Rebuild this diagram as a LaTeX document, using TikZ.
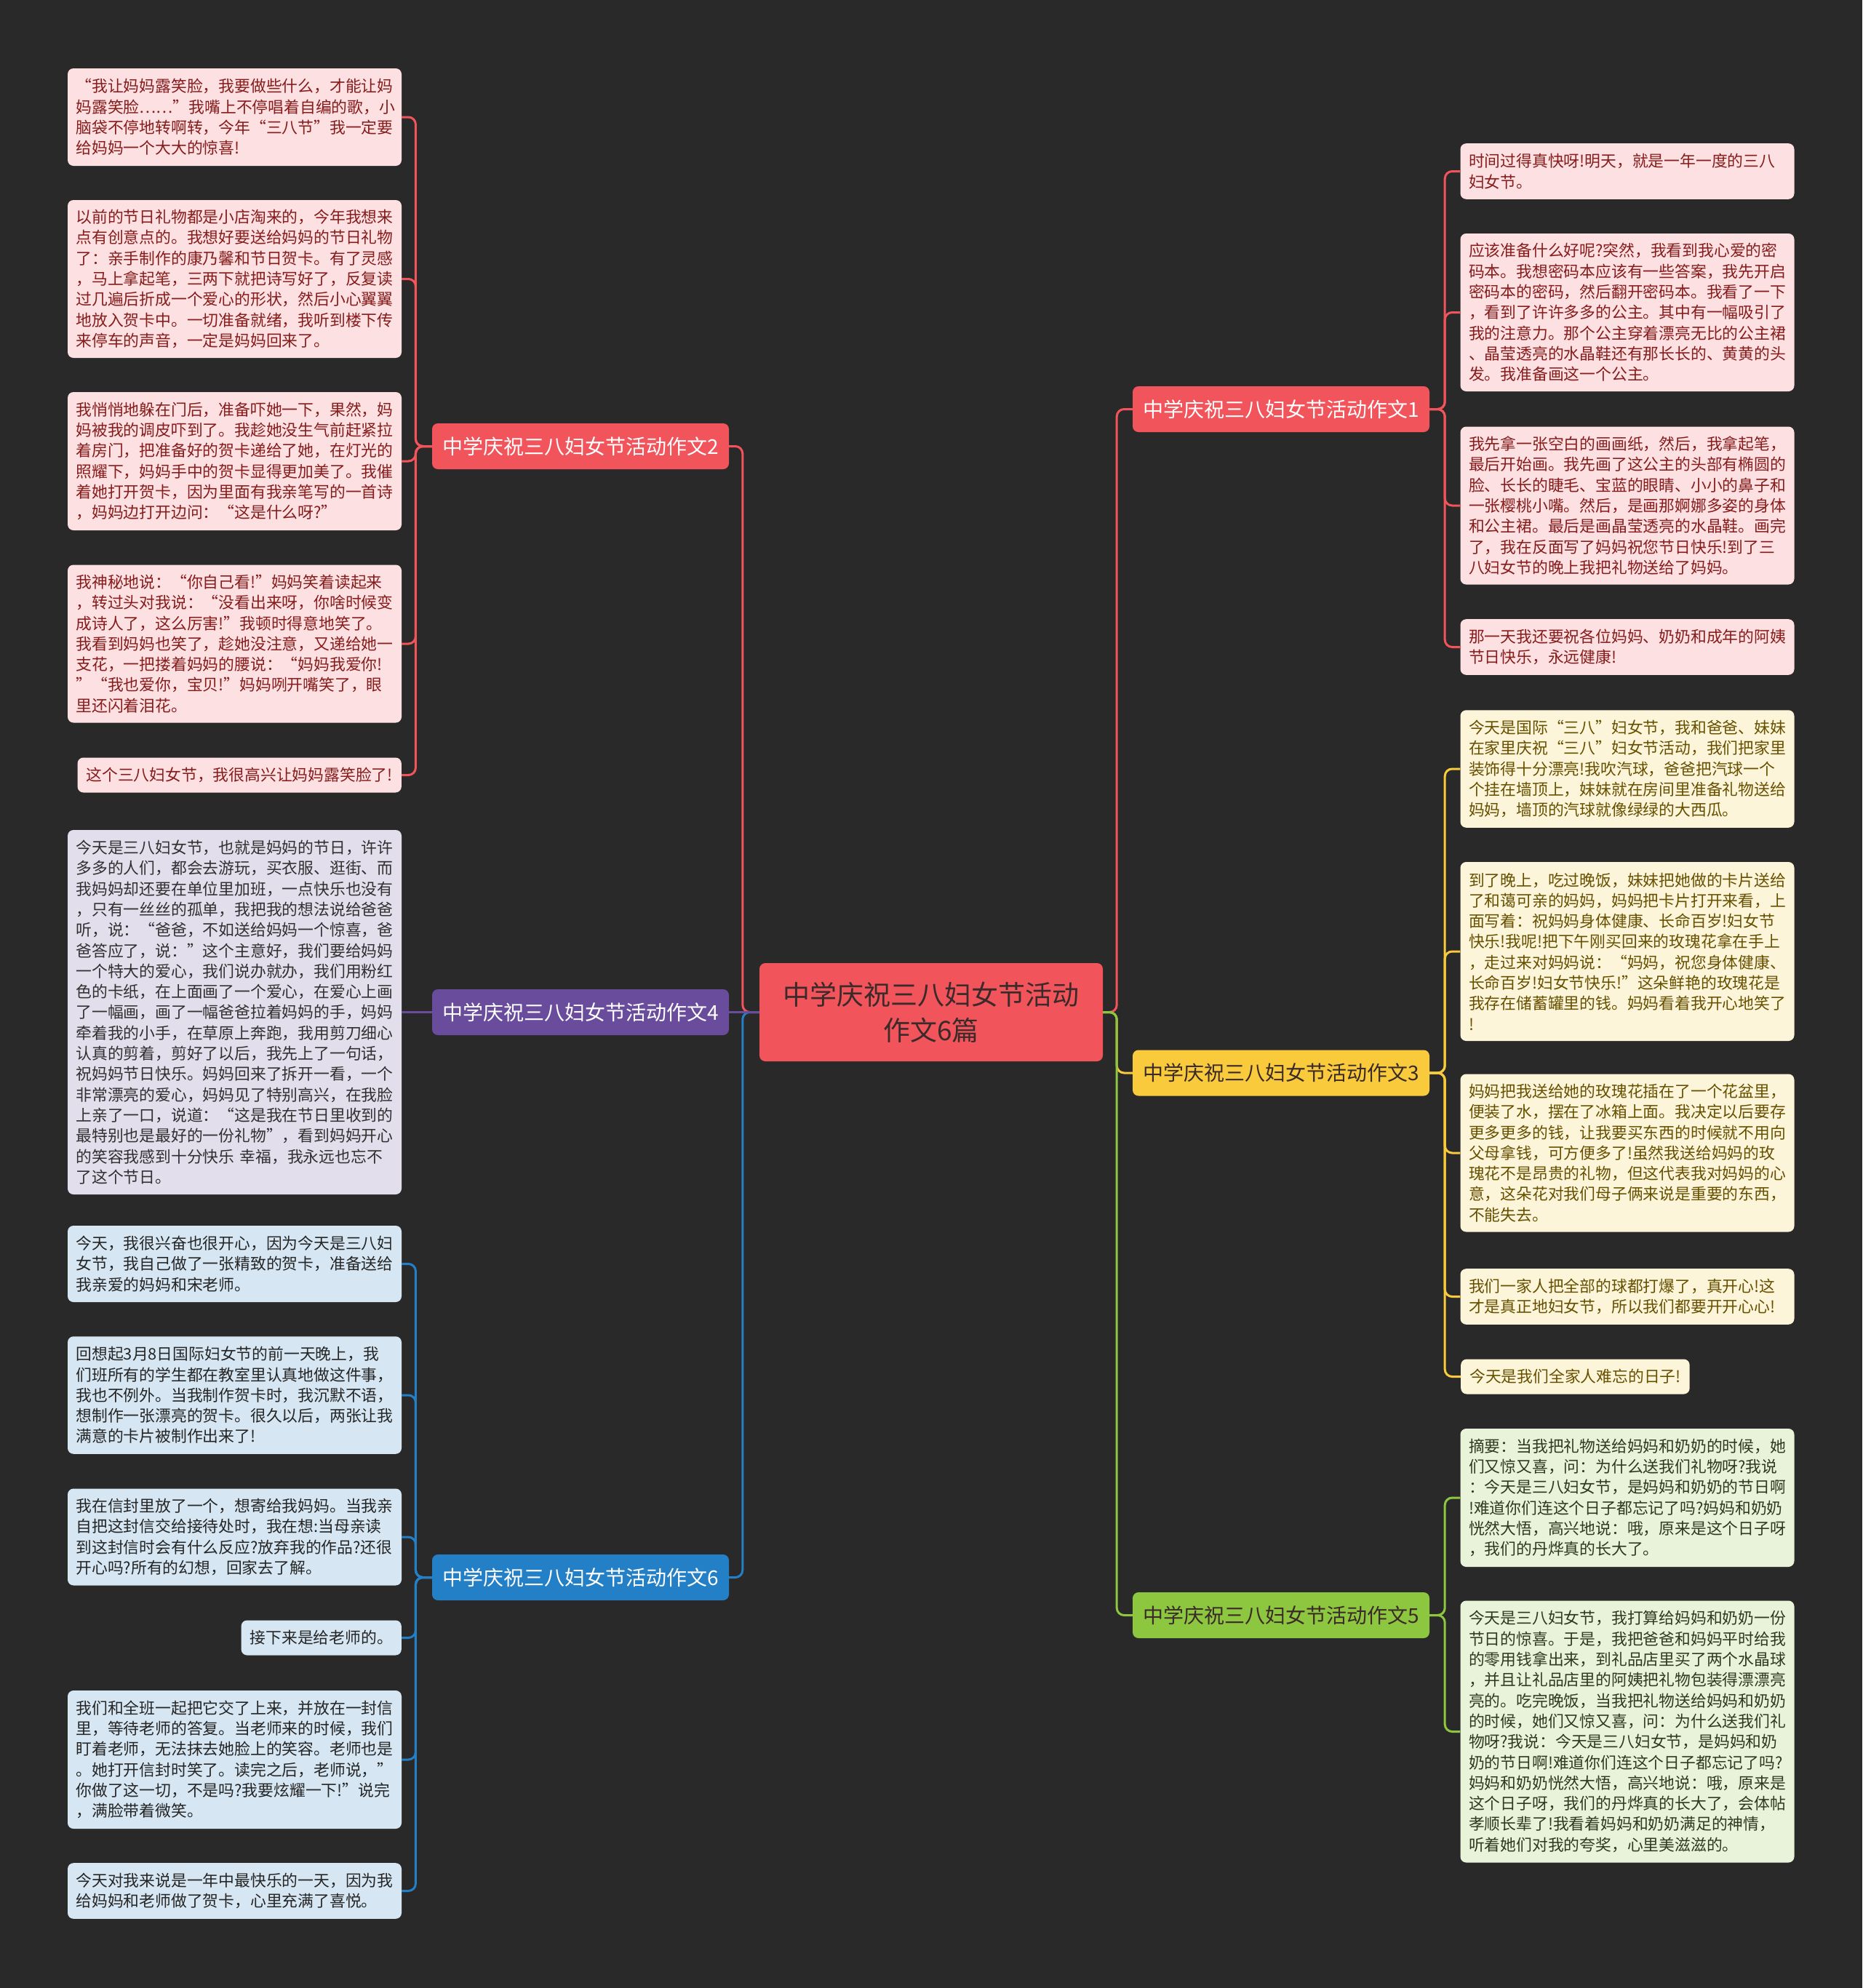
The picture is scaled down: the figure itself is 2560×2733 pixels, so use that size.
\documentclass[tikz,border=0pt]{standalone}
\usepackage{fontspec}
\setmainfont{Noto Sans CJK SC}
\definecolor{bg}{HTML}{292929}
\definecolor{cR}{HTML}{F2545B}
\definecolor{cP}{HTML}{6A4C9C}
\definecolor{cB}{HTML}{2480C6}
\definecolor{cY}{HTML}{F8CA3C}
\definecolor{cG}{HTML}{8DC63F}
\definecolor{fR}{HTML}{FDE0E1}
\definecolor{tR}{HTML}{861C1C}
\definecolor{fP}{HTML}{E3DEEC}
\definecolor{tP}{HTML}{303030}
\definecolor{fB}{HTML}{D6E7F3}
\definecolor{tB}{HTML}{252525}
\definecolor{fY}{HTML}{FDF5DA}
\definecolor{tY}{HTML}{665000}
\definecolor{fG}{HTML}{E9F3DA}
\definecolor{tG}{HTML}{2C3A1E}
\definecolor{tDark}{HTML}{3A2A2A}
\tikzset{
  leafbase/.style={rounded corners=8pt, inner xsep=11.5pt, inner ysep=10pt,
    font=\fontsize{21.8pt}{28.3pt}\selectfont},
  leaf/.style={leafbase, text width=436pt, align=left},
  shortleaf/.style={leafbase, minimum height=48pt, inner xsep=12pt},
  lR/.style={fill=fR, text=tR},
  lP/.style={fill=fP, text=tP},
  lB/.style={fill=fB, text=tB},
  lY/.style={fill=fY, text=tY},
  lG/.style={fill=fG, text=tG},
  branch/.style={rounded corners=8pt, minimum width=408pt, minimum height=63pt,
    inner sep=0pt, font=\fontsize{28pt}{34pt}\selectfont},
  centerbox/.style={rounded corners=8pt, minimum width=472pt, minimum height=135pt,
    inner sep=0pt, align=center, fill=cR, text=tDark,
    font=\fontsize{37pt}{49pt}\selectfont},
  link/.style={line width=3pt, rounded corners=10pt},
}
\begin{document}
\begin{tikzpicture}[x=1pt,y=-1pt]
\fill[bg] (0,0) rectangle (2560,2733);
\useasboundingbox (0,0) rectangle (2560,2733);

% center
\node[centerbox] (ctr) at (1280,1391.5) {中学庆祝三八妇女节活动\\作文6篇};

% branches
\node[branch, fill=cR, text=white] (b2) at (798,613.5) {中学庆祝三八妇女节活动作文2};
\node[branch, fill=cP, text=white] (b4) at (798,1391.5) {中学庆祝三八妇女节活动作文4};
\node[branch, fill=cB, text=white] (b6) at (798,2168.5) {中学庆祝三八妇女节活动作文6};
\node[branch, fill=cR, text=white] (b1) at (1761,562.5) {中学庆祝三八妇女节活动作文1};
\node[branch, fill=cY, text=tDark] (b3) at (1761,1475) {中学庆祝三八妇女节活动作文3};
\node[branch, fill=cG, text=tDark] (b5) at (1761,2220.5) {中学庆祝三八妇女节活动作文5};

% left leaves: branch 2
\node[leaf, lR, minimum height=134pt] (l21) at (322.5,161) {“我让妈妈露笑脸，我要做些什么，才能让妈\\妈露笑脸……”我嘴上不停唱着自编的歌，小\\脑袋不停地转啊转，今年“三八节”我一定要\\给妈妈一个大大的惊喜!};
\node[leaf, lR, minimum height=217pt] (l22) at (322.5,383.5) {以前的节日礼物都是小店淘来的，今年我想来\\点有创意点的。我想好要送给妈妈的节日礼物\\了：亲手制作的康乃馨和节日贺卡。有了灵感\\，马上拿起笔，三两下就把诗写好了，反复读\\过几遍后折成一个爱心的形状，然后小心翼翼\\地放入贺卡中。一切准备就绪，我听到楼下传\\来停车的声音，一定是妈妈回来了。};
\node[leaf, lR, minimum height=190pt] (l23) at (322.5,634) {我悄悄地躲在门后，准备吓她一下，果然，妈\\妈被我的调皮吓到了。我趁她没生气前赶紧拉\\着房门，把准备好的贺卡递给了她，在灯光的\\照耀下，妈妈手中的贺卡显得更加美了。我催\\着她打开贺卡，因为里面有我亲笔写的一首诗\\，妈妈边打开边问：“这是什么呀?”};
\node[leaf, lR, minimum height=217pt] (l24) at (322.5,885) {我神秘地说：“你自己看!”妈妈笑着读起来\\，转过头对我说：“没看出来呀，你啥时候变\\成诗人了，这么厉害!”我顿时得意地笑了。\\我看到妈妈也笑了，趁她没注意，又递给她一\\支花，一把搂着妈妈的腰说：“妈妈我爱你!\\”“我也爱你，宝贝!”妈妈咧开嘴笑了，眼\\里还闪着泪花。};
\node[shortleaf, lR, anchor=east] (l25) at (552,1065.5) {这个三八妇女节，我很高兴让妈妈露笑脸了!};

% branch 4
\node[leaf, lP, minimum height=501pt] (l41) at (322.5,1391.5) {今天是三八妇女节，也就是妈妈的节日，许许\\多多的人们，都会去游玩，买衣服、逛街、而\\我妈妈却还要在单位里加班，一点快乐也没有\\，只有一丝丝的孤单，我把我的想法说给爸爸\\听，说：“爸爸，不如送给妈妈一个惊喜，爸\\爸答应了，说：”这个主意好，我们要给妈妈\\一个特大的爱心，我们说办就办，我们用粉红\\色的卡纸，在上面画了一个爱心，在爱心上画\\了一幅画，画了一幅爸爸拉着妈妈的手，妈妈\\牵着我的小手，在草原上奔跑，我用剪刀细心\\认真的剪着，剪好了以后，我先上了一句话，\\祝妈妈节日快乐。妈妈回来了拆开一看，一个\\非常漂亮的爱心，妈妈见了特别高兴，在我脸\\上亲了一口，说道：“这是我在节日里收到的\\最特别也是最好的一份礼物”，看到妈妈开心\\的笑容我感到十分快乐 幸福，我永远也忘不\\了这个节日。};

% branch 6
\node[leaf, lB, minimum height=105pt] (l61) at (322.5,1737.5) {今天，我很兴奋也很开心，因为今天是三八妇\\女节，我自己做了一张精致的贺卡，准备送给\\我亲爱的妈妈和宋老师。};
\node[leaf, lB, minimum height=161.5pt] (l62) at (322.5,1918) {回想起3月8日国际妇女节的前一天晚上，我\\们班所有的学生都在教室里认真地做这件事，\\我也不例外。当我制作贺卡时，我沉默不语，\\想制作一张漂亮的贺卡。很久以后，两张让我\\满意的卡片被制作出来了!};
\node[leaf, lB, minimum height=133pt] (l63) at (322.5,2113) {我在信封里放了一个，想寄给我妈妈。当我亲\\自把这封信交给接待处时，我在想:当母亲读\\到这封信时会有什么反应?放弃我的作品?还很\\开心吗?所有的幻想，回家去了解。};
\node[shortleaf, lB, anchor=east] (l64) at (552,2251.5) {接下来是给老师的。};
\node[leaf, lB, minimum height=190pt] (l65) at (322.5,2419) {我们和全班一起把它交了上来，并放在一封信\\里，等待老师的答复。当老师来的时候，我们\\盯着老师，无法抹去她脸上的笑容。老师也是\\。她打开信封时笑了。读完之后，老师说，”\\你做了这一切，不是吗?我要炫耀一下!”说完\\，满脸带着微笑。};
\node[leaf, lB, minimum height=76.6pt] (l66) at (322.5,2599.5) {今天对我来说是一年中最快乐的一天，因为我\\给妈妈和老师做了贺卡，心里充满了喜悦。};

% right leaves: branch 1
\node[leaf, lR, minimum height=76.6pt] (r11) at (2237,235.5) {时间过得真快呀!明天，就是一年一度的三八\\妇女节。};
\node[leaf, lR, minimum height=217pt] (r12) at (2237,429.5) {应该准备什么好呢?突然，我看到我心爱的密\\码本。我想密码本应该有一些答案，我先开启\\密码本的密码，然后翻开密码本。我看了一下\\，看到了许许多多的公主。其中有一幅吸引了\\我的注意力。那个公主穿着漂亮无比的公主裙\\、晶莹透亮的水晶鞋还有那长长的、黄黄的头\\发。我准备画这一个公主。};
\node[leaf, lR, minimum height=217pt] (r13) at (2237,695) {我先拿一张空白的画画纸，然后，我拿起笔，\\最后开始画。我先画了这公主的头部有椭圆的\\脸、长长的睫毛、宝蓝的眼睛、小小的鼻子和\\一张樱桃小嘴。然后，是画那婀娜多姿的身体\\和公主裙。最后是画晶莹透亮的水晶鞋。画完\\了，我在反面写了妈妈祝您节日快乐!到了三\\八妇女节的晚上我把礼物送给了妈妈。};
\node[leaf, lR, minimum height=76.6pt] (r14) at (2237,889.5) {那一天我还要祝各位妈妈、奶奶和成年的阿姨\\节日快乐，永远健康!};

% branch 3
\node[leaf, lY, minimum height=161.5pt] (r31) at (2237,1057) {今天是国际“三八”妇女节，我和爸爸、妹妹\\在家里庆祝“三八”妇女节活动，我们把家里\\装饰得十分漂亮!我吹汽球，爸爸把汽球一个\\个挂在墙顶上，妹妹就在房间里准备礼物送给\\妈妈，墙顶的汽球就像绿绿的大西瓜。};
\node[leaf, lY, minimum height=246pt] (r32) at (2237,1308) {到了晚上，吃过晚饭，妹妹把她做的卡片送给\\了和蔼可亲的妈妈，妈妈把卡片打开来看，上\\面写着：祝妈妈身体健康、长命百岁!妇女节\\快乐!我呢!把下午刚买回来的玫瑰花拿在手上\\，走过来对妈妈说：“妈妈，祝您身体健康、\\长命百岁!妇女节快乐!”这朵鲜艳的玫瑰花是\\我存在储蓄罐里的钱。妈妈看着我开心地笑了\\!};
\node[leaf, lY, minimum height=217pt] (r33) at (2237,1585) {妈妈把我送给她的玫瑰花插在了一个花盆里，\\便装了水，摆在了冰箱上面。我决定以后要存\\更多更多的钱，让我要买东西的时候就不用向\\父母拿钱，可方便多了!虽然我送给妈妈的玫\\瑰花不是昂贵的礼物，但这代表我对妈妈的心\\意，这朵花对我们母子俩来说是重要的东西，\\不能失去。};
\node[leaf, lY, minimum height=76.6pt] (r34) at (2237,1782.5) {我们一家人把全部的球都打爆了，真开心!这\\才是真正地妇女节，所以我们都要开开心心!};
\node[shortleaf, lY, anchor=west] (r35) at (2008,1892.5) {今天是我们全家人难忘的日子!};

% branch 5
\node[leaf, lG, minimum height=190pt] (r51) at (2237,2059) {摘要：当我把礼物送给妈妈和奶奶的时候，她\\们又惊又喜，问：为什么送我们礼物呀?我说\\：今天是三八妇女节，是妈妈和奶奶的节日啊\\!难道你们连这个日子都忘记了吗?妈妈和奶奶\\恍然大悟，高兴地说：哦，原来是这个日子呀\\，我们的丹烨真的长大了。};
\node[leaf, lG, minimum height=360pt] (r52) at (2237,2380.5) {今天是三八妇女节，我打算给妈妈和奶奶一份\\节日的惊喜。于是，我把爸爸和妈妈平时给我\\的零用钱拿出来，到礼品店里买了两个水晶球\\，并且让礼品店里的阿姨把礼物包装得漂漂亮\\亮的。吃完晚饭，当我把礼物送给妈妈和奶奶\\的时候，她们又惊又喜，问：为什么送我们礼\\物呀?我说：今天是三八妇女节，是妈妈和奶\\奶的节日啊!难道你们连这个日子都忘记了吗?\\妈妈和奶奶恍然大悟，高兴地说：哦，原来是\\这个日子呀，我们的丹烨真的长大了，会体帖\\孝顺长辈了!我看着妈妈和奶奶满足的神情，\\听着她们对我的夸奖，心里美滋滋的。};

% center to branches
\draw[link, cR] (ctr.west) -- ++(-23,0) |- (b2.east);
\draw[link, cB] (ctr.west) -- ++(-23,0) |- (b6.east);
\draw[link, cP] (ctr.west) -- (b4.east);
\draw[link, cR] (ctr.east) -- ++(19,0) |- (b1.west);
\draw[link, cY] (ctr.east) -- ++(19,0) |- (b3.west);
\draw[link, cG] (ctr.east) -- ++(19,0) |- (b5.west);

% branch to leaves (left)
\foreach \l in {l21,l22,l23,l24,l25}
  \draw[link, cR] (b2.west) -- ++(-22.4,0) |- (\l.east);
\draw[link, cP] (b4.west) -- (l41.east);
\foreach \l in {l61,l62,l63,l64,l65,l66}
  \draw[link, cB] (b6.west) -- ++(-22.4,0) |- (\l.east);

% branch to leaves (right)
\foreach \l in {r11,r12,r13,r14}
  \draw[link, cR] (b1.east) -- ++(21,0) |- (\l.west);
\foreach \l in {r31,r32,r33,r34,r35}
  \draw[link, cY] (b3.east) -- ++(21,0) |- (\l.west);
\foreach \l in {r51,r52}
  \draw[link, cG] (b5.east) -- ++(21,0) |- (\l.west);
\end{tikzpicture}
\end{document}
